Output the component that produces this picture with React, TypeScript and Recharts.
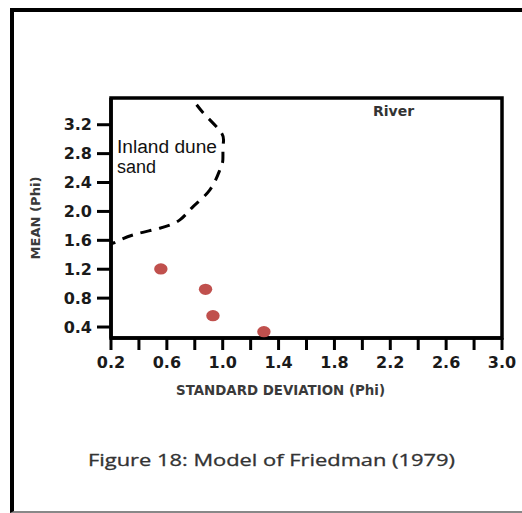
import React from 'react';
import { ComposedChart, XAxis, YAxis, Scatter, Line, ReferenceArea } from 'recharts';

// Axis ticks
const xTicks = [0.2, 0.4, 0.6, 0.8, 1.0, 1.2, 1.4, 1.6, 1.8, 2.0, 2.2, 2.4, 2.6, 2.8, 3.0];
const xTickLabels = ['0.2', '0.6', '1.0', '1.4', '1.8', '2.2', '2.6', '3.0'];
const yTicks = [0.4, 0.8, 1.2, 1.6, 2.0, 2.4, 2.8, 3.2];
const xDomain: [number, number] = [0.2, 3.0];
const yDomain: [number, number] = [0.248, 3.57];

// Sample points (standard deviation, mean)
const sampleSD = [0.557, 0.877, 0.93, 1.295];
const sampleMean = [1.204, 0.922, 0.557, 0.335];

// Inland dune sand / river boundary (dashed)
const boundarySD = [0.813, 0.884, 0.992, 1.003, 1.001, 0.98, 0.908, 0.788, 0.693, 0.549, 0.358, 0.239, 0.212, 0.2];
const boundaryMean = [3.477, 3.315, 3.085, 2.923, 2.715, 2.576, 2.299, 2.067, 1.883, 1.768, 1.675, 1.582, 1.56, 1.585];

const samples = sampleSD.map((x, i) => ({ x, y: sampleMean[i] }));
const boundary = boundarySD.map((x, i) => ({ x, y: boundaryMean[i] }));

const tickStyle = { fill: '#1a1a1a', fontSize: 16, fontWeight: 'bold', fontFamily: 'DejaVu Sans' };

const Dot = (props: any) => (
  <ellipse cx={props.cx} cy={props.cy} rx={6.7} ry={5.6} fill="#c0504d" />
);

export default function App() {
  return (
    <div style={{ position: 'absolute', left: 0, top: 0, width: 522, height: 513, background: '#fff' }}>
      <div
        style={{
          position: 'absolute',
          left: 10,
          top: 8,
          width: 512,
          height: 505,
          boxSizing: 'border-box',
          borderTop: '4px solid #000',
          borderLeft: '4px solid #000',
          borderBottom: '2px solid #888',
        }}
      />
      <div style={{ position: 'absolute', left: 0, top: 0 }}>
        <ComposedChart width={522} height={513} margin={{ top: 98, right: 20, bottom: 145, left: 51 }}>
          <XAxis
            type="number"
            dataKey="x"
            domain={xDomain}
            ticks={xTicks}
            allowDataOverflow
            interval={0}
            height={30}
            tickSize={12}
            tickMargin={7}
            tick={tickStyle}
            tickFormatter={(v: number) => (xTickLabels.includes(v.toFixed(1)) ? v.toFixed(1) : '')}
            tickLine={{ stroke: '#000', strokeWidth: 3 }}
            axisLine={{ stroke: '#000', strokeWidth: 3.5 }}
          />
          <YAxis
            type="number"
            dataKey="y"
            domain={yDomain}
            ticks={yTicks}
            allowDataOverflow
            interval={0}
            width={60}
            tickSize={14}
            tickMargin={5}
            tick={tickStyle}
            tickFormatter={(v: number) => v.toFixed(1)}
            tickLine={{ stroke: '#000', strokeWidth: 3 }}
            axisLine={{ stroke: '#000', strokeWidth: 3.5 }}
          />
          <ReferenceArea
            x1={xDomain[0]}
            x2={xDomain[1]}
            y1={yDomain[0]}
            y2={yDomain[1]}
            fill="none"
            fillOpacity={0}
            stroke="#000"
            strokeWidth={3.5}
            ifOverflow="visible"
          />
          <Line
            data={boundary}
            dataKey="y"
            type="natural"
            stroke="#000"
            strokeWidth={3}
            strokeDasharray="11 8"
            dot={false}
            activeDot={false}
            isAnimationActive={false}
          />
          <Scatter data={samples} shape={Dot} isAnimationActive={false} />
          <text x={373} y={116} fontFamily="DejaVu Sans" fontWeight="bold" fontSize={14} fill="#333">River</text>
          <text x={117} y={153} fontFamily="Liberation Sans" fontSize={18} fill="#111" textLength={100} lengthAdjust="spacingAndGlyphs">Inland dune</text>
          <text x={117} y={173} fontFamily="Liberation Sans" fontSize={18} fill="#111">sand</text>
          <text
            x={280.5}
            y={395}
            textAnchor="middle"
            fontFamily="DejaVu Sans"
            fontWeight="bold"
            fontSize={14}
            fill="#3a3a3a"
            textLength={209}
            lengthAdjust="spacingAndGlyphs"
          >
            STANDARD DEVIATION (Phi)
          </text>
          <text
            transform="translate(40,218) rotate(-90)"
            textAnchor="middle"
            fontFamily="DejaVu Sans"
            fontWeight="bold"
            fontSize={13}
            fill="#3a3a3a"
            textLength={83}
            lengthAdjust="spacingAndGlyphs"
          >
            MEAN (Phi)
          </text>
          <text
            x={271.5}
            y={466}
            textAnchor="middle"
            fontFamily="Open Sans"
            fontSize={16}
            fill="#333"
            stroke="#333"
            strokeWidth={0.3}
            textLength={367}
            lengthAdjust="spacingAndGlyphs"
          >
            Figure 18: Model of Friedman (1979)
          </text>
        </ComposedChart>
      </div>
    </div>
  );
}
